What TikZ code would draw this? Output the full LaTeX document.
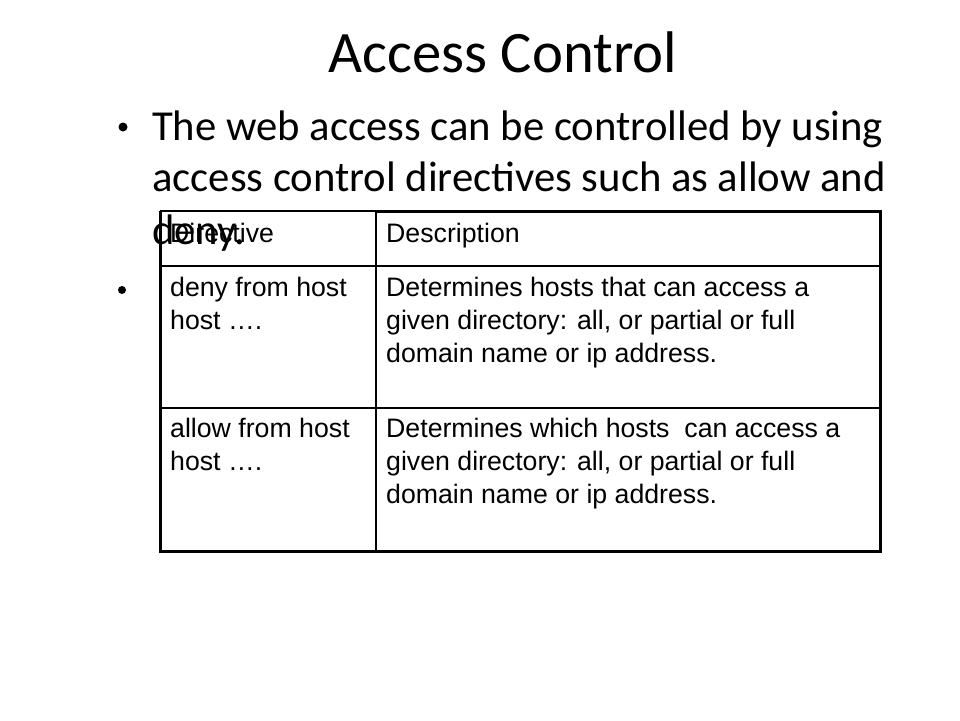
\documentclass[tikz,border=0pt]{standalone}
\usepackage{fontspec}
\setmainfont{Carlito}
\newfontfamily\arialfont{Liberation Sans}
\begin{document}
\begin{tikzpicture}[x=1pt,y=-1pt,
  titlefont/.style={font={\fontsize{58.7}{70}\selectfont}},
  bodytext/.style={font={\fontsize{42.7}{50}\selectfont}, anchor=base west, inner sep=0pt},
  celltext/.style={font={\arialfont\fontsize{26.7}{32.5}\selectfont}, anchor=base west, inner sep=0pt},
  bulletdot/.style={circle, fill=black, inner sep=0pt},
  thinline/.style={line width=1.1pt},
  thickline/.style={line width=3pt}]
\useasboundingbox (0,0) rectangle (960,720);
% title
\node[titlefont, anchor=base, inner sep=0pt] (title) at (503,72) {Access Control};
% bullet text
\node[bodytext] (body1) at (152,140) {The web access can be controlled by using};
\node[bodytext] (body2) at (152,191) {access control directives such as allow and};
\node[bodytext] (body3) at (152,244) {deny.};
\node[bulletdot, minimum size=9pt] (b1) at (123,127) {};
\node[bulletdot, minimum size=8pt] (b2) at (122,290) {};
% table grid
\coordinate (tl) at (160,211);
\coordinate (tm) at (376,211);
\coordinate (tr) at (880,211);
\coordinate (bl) at (160,551);
\coordinate (bm) at (376,551);
\coordinate (br) at (880,551);
\coordinate (l1) at (160,266);
\coordinate (r1) at (880,266);
\coordinate (l2) at (160,408);
\coordinate (r2) at (880,408);
\draw[thinline] (tl) -- (tm);
\draw[thinline] (tm) -- (bm);
\draw[thinline] (l1) -- (r1);
\draw[thinline] (l2) -- (r2);
\draw[thickline] (tm) -- (tr) -- (br) -- (bl) -- (tl);
% cells
\node[celltext] (h1) at (170,242) {Directive};
\node[celltext] (h2) at (386,242) {Description};
\node[celltext] (r1a1) at (170,296) {deny from host};
\node[celltext] (r1a2) at (170,329) {host \dots.};
\node[celltext] (r1b1) at (386,296) {Determines hosts that can access a};
\node[celltext] (r1b2) at (386,329) {given directory: all, or partial or full};
\node[celltext] (r1b3) at (386,362) {domain name or ip address.};
\node[celltext] (r2a1) at (170,437) {allow from host};
\node[celltext] (r2a2) at (170,470) {host \dots.};
\node[celltext] (r2b1) at (386,437) {Determines which hosts\ \ can access a};
\node[celltext] (r2b2) at (386,470) {given directory: all, or partial or full};
\node[celltext] (r2b3) at (386,503) {domain name or ip address.};
\end{tikzpicture}
\end{document}
